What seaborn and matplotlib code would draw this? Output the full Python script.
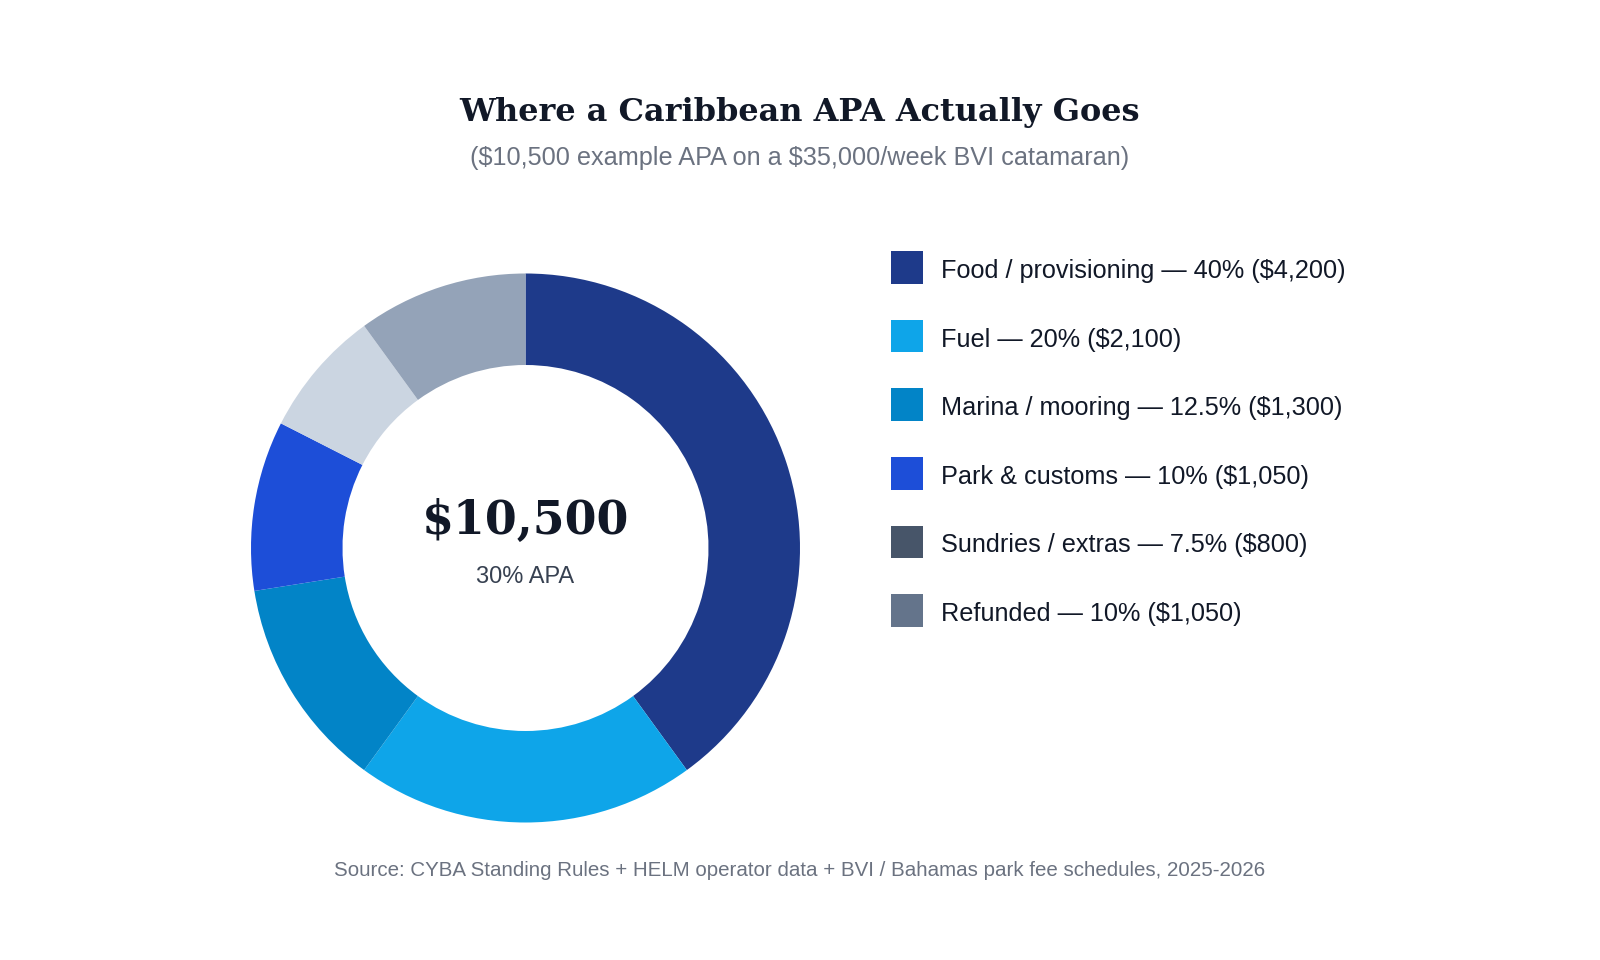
import matplotlib
matplotlib.use("Agg")
import matplotlib.pyplot as plt
import seaborn as sns
from matplotlib.patches import Rectangle

# ---- data ----
categories = ["Food / provisioning", "Fuel", "Marina / mooring", "Park & customs",
              "Sundries / extras", "Refunded"]
shares = [40, 20, 12.5, 10, 7.5, 10]
share_labels = ["40%", "20%", "12.5%", "10%", "7.5%", "10%"]
amounts = ["$4,200", "$2,100", "$1,300", "$1,050", "$800", "$1,050"]
wedge_colors = ["#1e3a8a", "#0ea5e9", "#0284c7", "#1d4ed8", "#cbd5e1", "#94a3b8"]
legend_colors = ["#1e3a8a", "#0ea5e9", "#0284c7", "#1d4ed8", "#475569", "#64748b"]
total_label = "$10,500"
center_sub = "30% APA"
title = "Where a Caribbean APA Actually Goes"
subtitle = "($10,500 example APA on a $35,000/week BVI catamaran)"
source = "Source: CYBA Standing Rules + HELM operator data + BVI / Bahamas park fee schedules, 2025-2026"

sns.set_theme(style="white")
plt.rcParams["font.family"] = ["Liberation Sans", "DejaVu Sans"]

W, H = 1600, 960
fig = plt.figure(figsize=(W / 100, H / 100), dpi=100)
fig.patch.set_facecolor("white")

def fx(px):
    return px / W

def fy(py):
    return 1 - py / H

# donut
cx, cy, R = 525.5, 548, 274.5
ax = fig.add_axes([fx(cx - R), fy(cy + R), 2 * R / W, 2 * R / H])
ax.pie(shares, colors=wedge_colors, startangle=90, counterclock=False, radius=1,
       wedgeprops=dict(width=1 - 183 / 274.5, edgecolor="none", linewidth=0))
ax.set_xlim(-1, 1)
ax.set_ylim(-1, 1)
ax.set_aspect("equal")
ax.axis("off")

ax.text(0, 0.10, total_label, ha="center", va="center", fontsize=33,
        fontweight="bold", family="DejaVu Serif", color="#111827", parse_math=False)
ax.text(0, -0.105, center_sub, ha="center", va="center", fontsize=17, color="#374151",
        parse_math=False)

# titles
fig.text(0.5, fy(113), title, ha="center", va="center", fontsize=23,
         fontweight="heavy", family="DejaVu Serif", color="#111827", parse_math=False)
fig.text(0.5, fy(158), subtitle, ha="center", va="center", fontsize=18.2, color="#6b7280",
         parse_math=False)
fig.text(0.5, fy(870), source, ha="center", va="center", fontsize=14.8, color="#6b7280",
         parse_math=False)

# legend
sq = 32.5
x0, y0, step = 891, 267.5, 68.6
for i, (cat, sl, am, col) in enumerate(zip(categories, share_labels, amounts, legend_colors)):
    yc = y0 + i * step
    fig.add_artist(Rectangle((fx(x0), fy(yc + sq / 2)), sq / W, sq / H,
                             transform=fig.transFigure, facecolor=col, edgecolor="none"))
    fig.text(fx(941), fy(yc + 3.5), f"{cat} \u2014 {sl} ({am})", ha="left", va="center",
             fontsize=18.2, color="#111827", parse_math=False)

fig.savefig("out.png", dpi=100, facecolor="white")
